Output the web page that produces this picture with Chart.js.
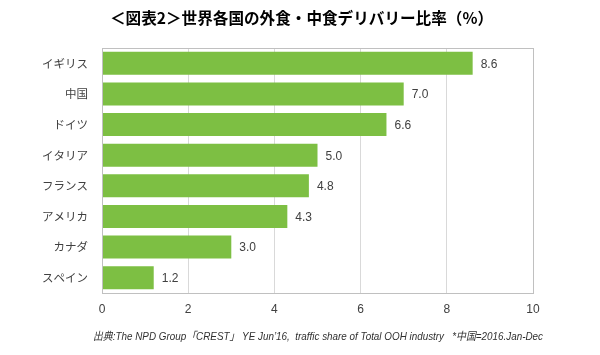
<!DOCTYPE html>
<html><head><meta charset="utf-8">
<script src="https://cdn.jsdelivr.net/npm/chart.js@4"></script>
<style>html,body{margin:0;padding:0;background:#fff}#w{width:600px;height:355px}</style>
</head><body><div id="w"><canvas id="c" width="600" height="355"></canvas></div>
<script>
const titleText = '＜図表2＞世界各国の外食・中食デリバリー比率（%）';
const footerText = '出典:The NPD Group「CREST」 YE Jun\u201916,  traffic share of Total OOH industry   *中国=2016.Jan-Dec';
const categories = ['イギリス','中国','ドイツ','イタリア','フランス','アメリカ','カナダ','スペイン'];
const shares = [8.6, 7.0, 6.6, 5.0, 4.8, 4.3, 3.0, 1.2];
const xTicks = [0, 2, 4, 6, 8, 10];

const CJK = '"Noto Sans CJK JP", sans-serif';

const frame = {
  id: 'frame',
  afterDraw(chart) {
    const {ctx, chartArea: a} = chart;
    ctx.save();
    ctx.strokeStyle = '#c0c0c0';
    ctx.lineWidth = 1;
    ctx.strokeRect(Math.round(a.left) + 0.5, Math.round(a.top) + 0.5, Math.round(a.right - a.left), Math.round(a.bottom - a.top));
    ctx.restore();
  }
};
const valueLabels = {
  id: 'valueLabels',
  afterDatasetsDraw(chart) {
    const {ctx} = chart;
    const meta = chart.getDatasetMeta(0);
    ctx.save();
    ctx.font = '12px "Liberation Sans", sans-serif';
    ctx.fillStyle = '#404040';
    ctx.textBaseline = 'middle';
    ctx.textAlign = 'left';
    meta.data.forEach((bar, i) => {
      ctx.fillText(shares[i].toFixed(1), bar.x + 8, bar.y + 1);
    });
    ctx.restore();
  }
};
const texts = {
  id: 'texts',
  afterDraw(chart) {
    const {ctx} = chart;
    ctx.save();
    // title
    ctx.font = 'bold 16px "Noto Sans CJK JP", sans-serif';
    ctx.fillStyle = '#000';
    ctx.textBaseline = 'middle';
    ctx.textAlign = 'left';
    let tw = ctx.measureText(titleText).width;
    ctx.save();
    ctx.translate(110, 18);
    ctx.scale(383 / tw, 1);
    ctx.fillText(titleText, 0, 0);
    ctx.restore();
    // footer
    ctx.font = 'italic 11px "Liberation Sans", "Noto Sans CJK JP", sans-serif';
    ctx.fillStyle = '#303030';
    const w = ctx.measureText(footerText).width;
    ctx.translate(93, 337);
    ctx.scale(450 / w, 1);
    ctx.fillText(footerText, 0, 0);
    ctx.restore();
  }
};

new Chart(document.getElementById('c'), {
  type: 'bar',
  data: {
    labels: categories,
    datasets: [{
      data: shares,
      backgroundColor: '#7dbf43',
      borderWidth: 0,
      categoryPercentage: 1,
      barPercentage: 0.75
    }]
  },
  plugins: [frame, valueLabels, texts],
  options: {
    indexAxis: 'y',
    responsive: false,
    animation: false,
    layout: {padding: {left: 0, right: 67, top: 48, bottom: 24}},
    plugins: {
      legend: {display: false},
      tooltip: {enabled: false},
      title: {display: false}
    },
    scales: {
      x: {
        min: 0, max: 10,
        afterBuildTicks(s) { s.ticks = xTicks.map(v => ({value: v})); },
        afterFit(s) { s.height = 38; },
        grid: {color: '#d9d9d9', drawTicks: false},
        border: {display: false},
        ticks: {color: '#404040', font: {family: '"Liberation Sans", sans-serif', size: 12}, padding: 9}
      },
      y: {
        afterFit(s) { s.width = 102; },
        grid: {display: false, drawTicks: false},
        border: {display: true, color: '#c0c0c0'},
        ticks: {color: '#404040', font: {family: CJK, size: 11.5}, padding: 14}
      }
    }
  }
});
</script></body></html>
